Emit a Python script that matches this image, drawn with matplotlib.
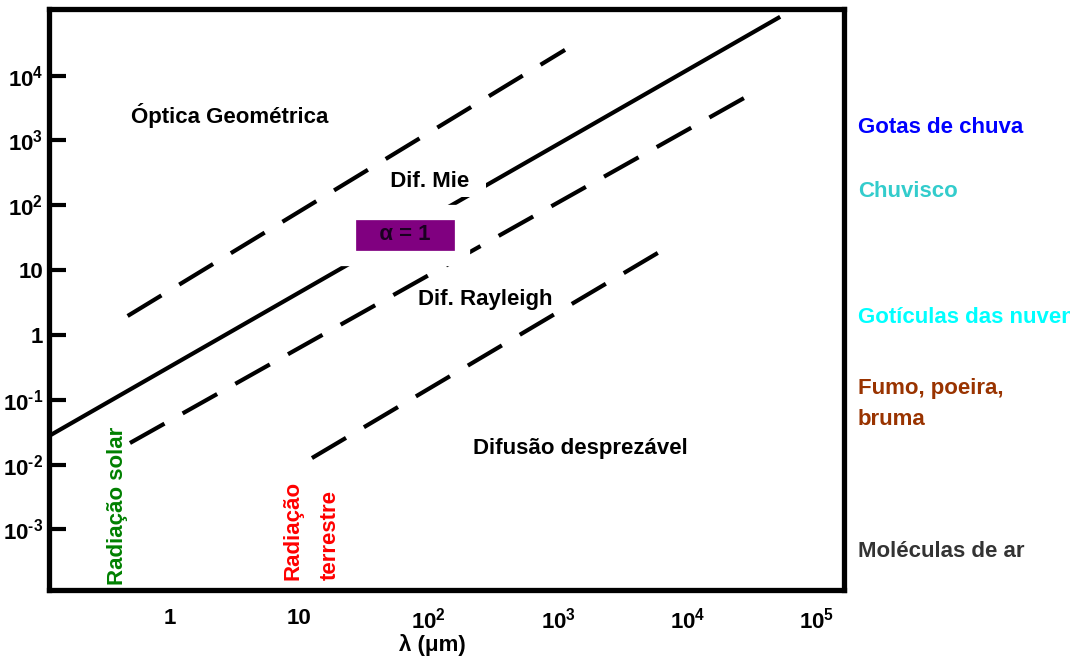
import matplotlib
matplotlib.use("Agg")
import matplotlib.pyplot as plt

plt.rcParams['font.family'] = ['Liberation Sans', 'DejaVu Sans']
plt.rcParams['font.weight'] = 'bold'
plt.rcParams['mathtext.fontset'] = 'custom'
plt.rcParams['mathtext.rm'] = 'Liberation Sans:bold'
plt.rcParams['mathtext.bf'] = 'Liberation Sans:bold'
plt.rcParams['mathtext.it'] = 'Liberation Sans:bold'

# ---- data (log-log: wavelength vs particle radius, both in micrometres) ----
alpha1_x = [0.116, 5.2e4]
alpha1_y = [0.0276, 8.1e4]
mie_upper_x = [0.47, 1130]
mie_upper_y = [1.96, 2.5e4]
rayleigh_upper_x = [0.49, 3.76e4]
rayleigh_upper_y = [0.0215, 6460]
negligible_x = [12.5, 6450]
negligible_y = [0.0126, 20.5]

x_ticks = [1, 10, 100, 1000, 1e4, 1e5]
x_ticklabels = ['1', '10', r'$10^{2}$', r'$10^{3}$', r'$10^{4}$', r'$10^{5}$']
y_ticks = [1e4, 1e3, 1e2, 10, 1, 0.1, 0.01, 0.001]
y_ticklabels = [r'$10^{4}$', r'$10^{3}$', r'$10^{2}$', '10', '1',
                r'$10^{\text{-}1}$', r'$10^{\text{-}2}$', r'$10^{\text{-}3}$']

right_labels = ['Gotas de chuva', 'Chuvisco', 'Gotículas das nuvens',
                'Fumo, poeira,', 'bruma', 'Moléculas de ar']
right_colors = ['#0000ff', '#33cccc', '#00ffff', '#993300', '#993300', '#333333']
right_y = [0.8058, 0.7087, 0.5175, 0.4112, 0.3627, 0.1624]

fig = plt.figure(figsize=(10.70, 6.59), dpi=100)
ax = fig.add_axes([0.0458, 0.1047, 0.743, 0.8809])
ax.set_xscale('log')
ax.set_yscale('log')
ax.set_xlim(0.116, 1.62e5)
ax.set_ylim(1.16e-4, 1.05e5)

lw = 3.0
ax.plot(alpha1_x, alpha1_y, color='black', lw=lw, solid_capstyle='butt', zorder=2)
for xs, ys in [(mie_upper_x, mie_upper_y), (rayleigh_upper_x, rayleigh_upper_y),
               (negligible_x, negligible_y)]:
    ax.plot(xs, ys, color='black', lw=lw, dashes=(9.5, 5), dash_capstyle='butt', zorder=2)

for s in ax.spines.values():
    s.set_linewidth(3.8)

ax.set_xticks(x_ticks)
ax.set_xticklabels(x_ticklabels)
ax.set_yticks(y_ticks)
ax.set_yticklabels(y_ticklabels)
ax.minorticks_off()
ax.tick_params(axis='x', length=0, pad=13, labelsize=16)
ax.tick_params(axis='y', direction='in', length=12, width=3, pad=4, labelsize=16)
ax.set_xlabel('λ (μm)', fontsize=16, fontweight='bold')
ax.xaxis.set_label_coords(0.482, -0.075)

fs = 16
ax.text(2.91, 2400, 'Óptica Geométrica', fontsize=fs, ha='center', va='center')
ax.text(102, 229, '  Dif. Mie  ', fontsize=fs, ha='center', va='center', zorder=5,
        bbox=dict(facecolor='white', edgecolor='none', pad=3))
# purple label with a white margin (thick white edge) hiding the line behind it
ax.text(65.5, 34.9, '   α = 1   ', fontsize=fs, ha='center', va='center', zorder=5,
        color='#1a0020',
        bbox=dict(facecolor='#800080', edgecolor='white', linewidth=11, pad=9.3))
ax.text(272, 3.47, 'Dif. Rayleigh', fontsize=fs, ha='center', va='center')
ax.text(1478, 0.0174, 'Difusão desprezável', fontsize=fs, ha='center', va='center')

ax.text(0.39, 1.38e-4, 'Radiação solar', fontsize=fs, color='#008000',
        rotation=90, ha='center', va='bottom')
ax.text(8.9, 1.66e-4, 'Radiação', fontsize=fs, color='#ff0000',
        rotation=90, ha='center', va='bottom')
ax.text(17.2, 1.66e-4, 'terrestre', fontsize=fs, color='#ff0000',
        rotation=90, ha='center', va='bottom')

for lab, col, yy in zip(right_labels, right_colors, right_y):
    fig.text(0.8019, yy, lab, fontsize=fs, color=col, ha='left', va='center')

fig.savefig('out.png', dpi=100)
